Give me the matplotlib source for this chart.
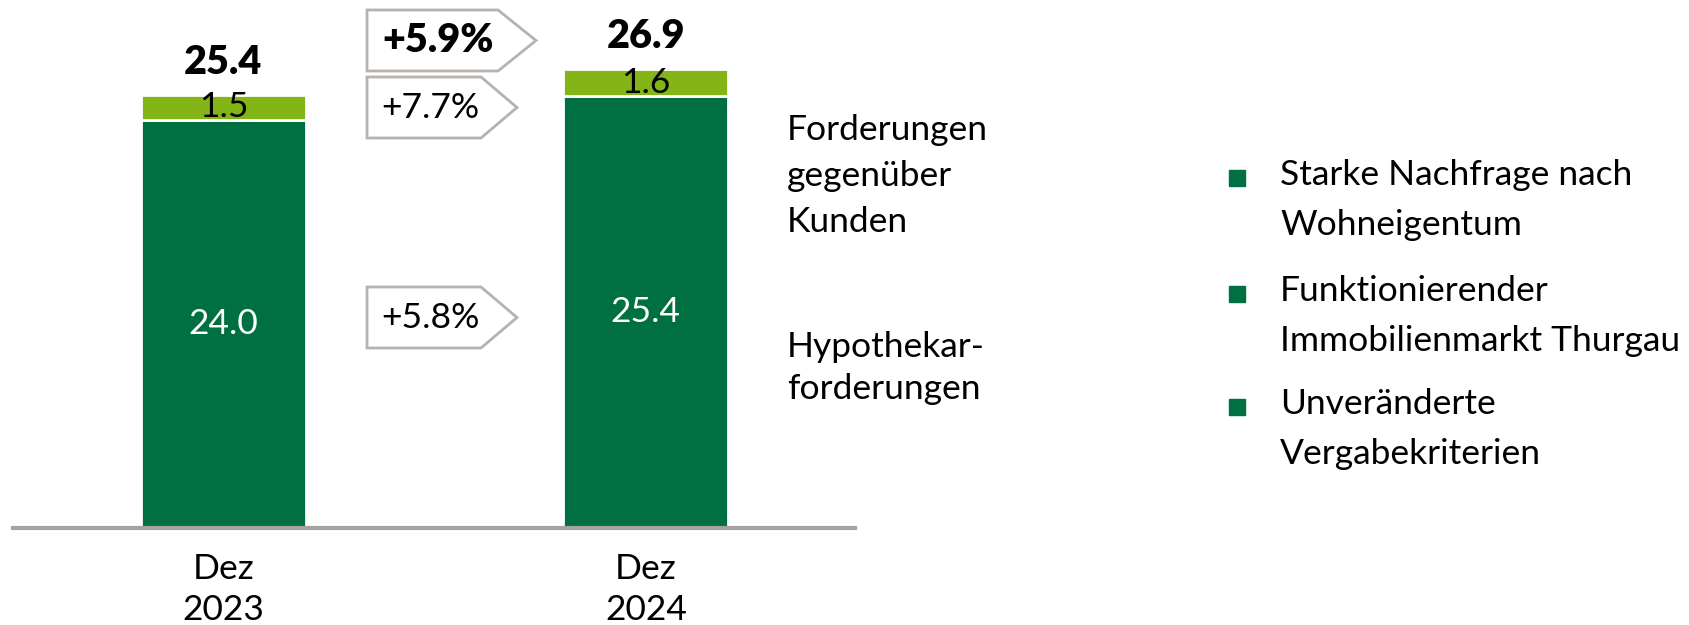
import numpy as np
import matplotlib.pyplot as plt
from matplotlib.patches import Polygon

plt.rcParams['font.family'] = ['Lato', 'DejaVu Sans']

# data
periods = ["Dez\n2023", "Dez\n2024"]
hypo = [24.0, 25.4]          # Hypothekarforderungen
kunden = [1.5, 1.6]          # Forderungen gegenüber Kunden
totals = [25.4, 26.9]
growth_total = "+5.9%"
growth_kunden = "+7.7%"
growth_hypo = "+5.8%"
bullets = ["Starke Nachfrage nach\nWohneigentum",
           "Funktionierender\nImmobilienmarkt Thurgau",
           "Unveränderte\nVergabekriterien"]

DARK = "#006F41"
LIGHT = "#84B516"
GREY = "#A8A29C"
FS = 25.5

W, H = 1690, 625
fig = plt.figure(figsize=(W / 100, H / 100), dpi=100)

# axes placed so the axis line runs from x=13 to 855 px at y=528 px
ax = fig.add_axes([13 / W, (H - 528) / H, 842 / W, 528 / H])
x = np.arange(len(periods))
ax.bar(x, hypo, width=0.39, color=DARK, edgecolor="white", linewidth=2)
ax.bar(x, kunden, bottom=hypo, width=0.39, color=LIGHT, edgecolor="white", linewidth=2)
ax.set_xlim(-0.498, 1.495)
ax.set_ylim(0, 528 / 17.0)

for i in x:
    ax.text(i, hypo[i] / 2, f"{hypo[i]:.1f}", ha="center", va="center",
            color="white", fontsize=FS)
    ax.text(i, hypo[i] + kunden[i] / 2, f"{kunden[i]:.1f}", ha="center",
            va="center", color="black", fontsize=FS)
    ax.text(i, totals[i] + 2.0, f"{totals[i]:.1f}", ha="center", va="center",
            color="black", fontsize=FS + 3, fontweight="heavy")

for s in ["top", "left", "right"]:
    ax.spines[s].set_visible(False)
ax.spines["bottom"].set_color(GREY)
ax.spines["bottom"].set_linewidth(3)
ax.set_yticks([])
ax.set_xticks(x, periods)
ax.tick_params(axis="x", length=0, pad=18, labelsize=FS)
for lab in ax.get_xticklabels():
    lab.set_linespacing(1.35)


def px(xp, yp):
    return (xp / W, 1 - yp / H)


def tag(x0, x1, tip, y0, y1, label, bold=False):
    pts = [px(x0, y0), px(x1, y0), px(tip, (y0 + y1) / 2), px(x1, y1), px(x0, y1)]
    fig.patches.append(Polygon(pts, closed=True, transform=fig.transFigure,
                               facecolor="white", edgecolor="#B7B2AC", linewidth=2))
    fig.text(*px(x0 + (x1 - x0) / 2 + 6, (y0 + y1) / 2), label, ha="center",
             va="center", fontsize=FS + 3 if bold else FS,
             fontweight="heavy" if bold else "normal")


tag(367, 498, 536, 10, 71, growth_total, bold=True)
tag(367, 481, 517, 77, 138, growth_kunden)
tag(367, 481, 517, 287, 348, growth_hypo)

fig.text(*px(787, 176), "Forderungen\ngegenüber\nKunden", ha="left", va="center",
         fontsize=FS, linespacing=1.55)
fig.text(*px(787, 368), "Hypothekar-\nforderungen", ha="left", va="center",
         fontsize=FS, linespacing=1.4)

for k, (txt, yc) in enumerate(zip(bullets, [200, 316, 429])):
    fig.text(*px(1280, yc), txt, ha="left", va="center", fontsize=FS, linespacing=1.7)
    fig.lines.append(plt.Line2D([1237 / W], [1 - (yc - 22) / H], marker="s",
                                markersize=12, color=DARK, linestyle="none",
                                transform=fig.transFigure))

fig.savefig("out.png", dpi=100)
